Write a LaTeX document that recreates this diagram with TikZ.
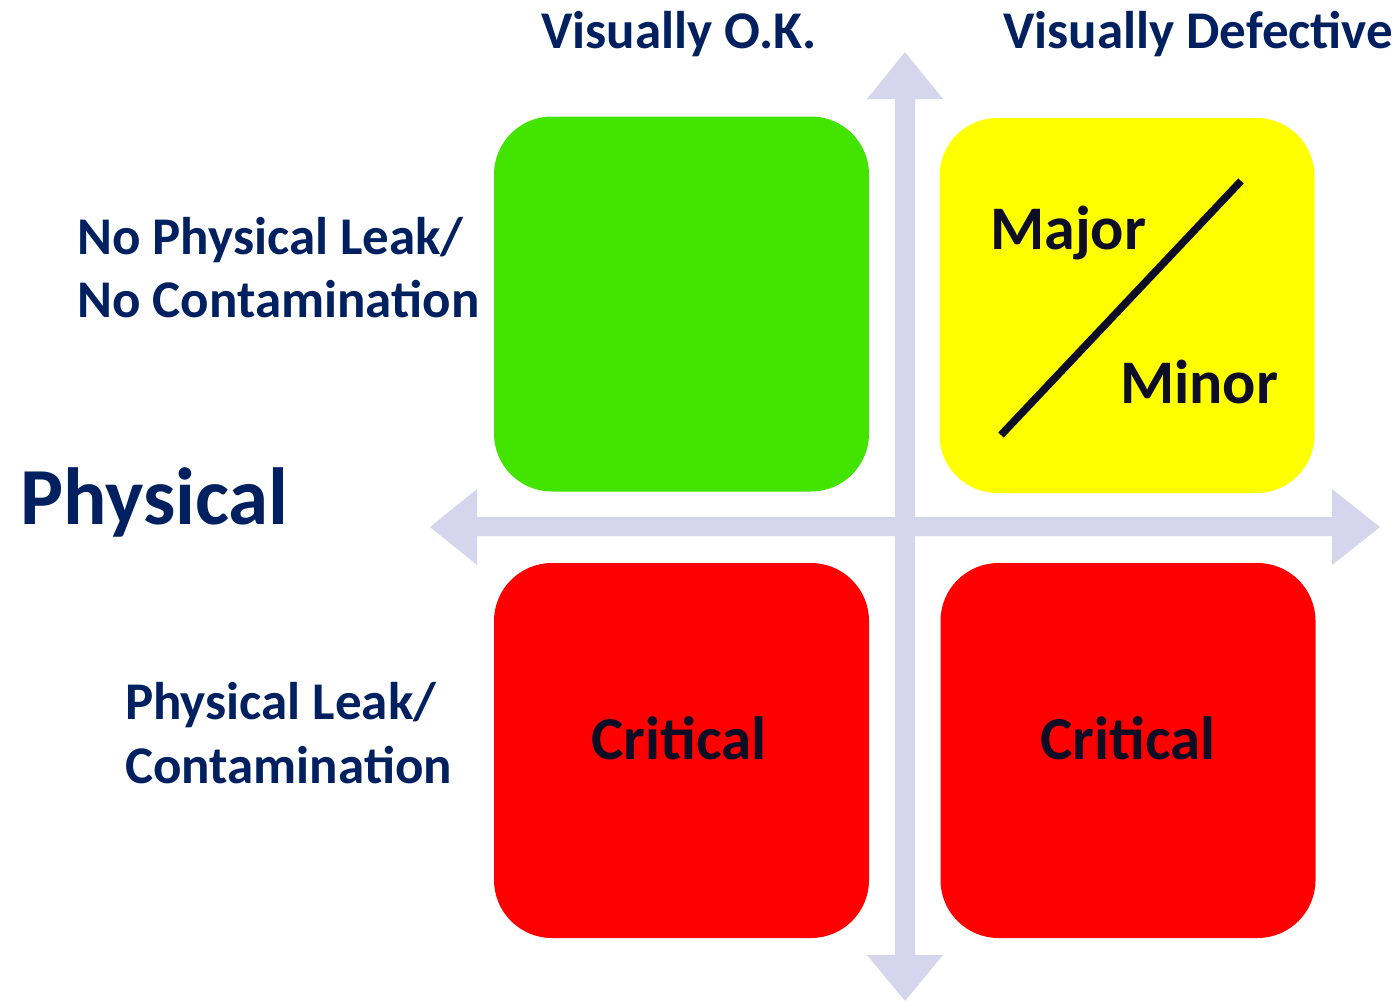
\documentclass[tikz,border=0pt]{standalone}
\usepackage{fontspec}
\setmainfont{Carlito}
\definecolor{navy}{HTML}{002060}
\definecolor{ink}{HTML}{0D0D26}
\definecolor{axis}{HTML}{D5D5EE}
\definecolor{okgreen}{HTML}{43E400}
\definecolor{warnyellow}{HTML}{FFFF00}
\definecolor{critred}{HTML}{FF0000}
\begin{document}
\begin{tikzpicture}[x=1pt,y=-1pt,
  quad/.style={draw=none,minimum width=375pt,minimum height=375pt,rounded corners=58pt,inner sep=0pt},
  axislab/.style={anchor=base west,inner sep=0pt,text=navy,font=\bfseries\fontsize{53}{64}\selectfont},
  rowlab/.style={anchor=base west,inner sep=0pt,text=navy,font=\bfseries\fontsize{53}{64}\selectfont},
  biglab/.style={anchor=base west,inner sep=0pt,text=navy,font=\bfseries\fontsize{81}{97}\selectfont},
  celllab/.style={inner sep=0pt,text=ink,font=\bfseries\fontsize{61}{73}\selectfont},
  mmlab/.style={anchor=base west,inner sep=0pt,text=ink,font=\bfseries\fontsize{62}{74}\selectfont}]
\useasboundingbox[fill=white] (0,0) rectangle (1399,1001);
% axes
\fill[axis] (895,99) -- (867,99) -- (905,52) -- (943,99) -- (915,99)
  -- (915,955) -- (943,955) -- (905,1001) -- (867,955) -- (895,955) -- cycle;
\fill[axis] (477,517) -- (477,489) -- (430,527) -- (477,565) -- (477,536)
  -- (1332,536) -- (1332,565) -- (1380,527) -- (1332,489) -- (1332,517) -- cycle;
% quadrants
\node[quad,fill=okgreen] (q1) at (681.5,304) {};
\node[quad,fill=warnyellow] (q2) at (1127,305.5) {};
\node[quad,fill=critred] (q3) at (681.5,750.5) {};
\node[quad,fill=critred] (q4) at (1128,750.5) {};
% diagonal
\coordinate (d1) at (1001,435);
\coordinate (d2) at (1241,181);
\draw[ink,line width=7.5pt] (d1) -- (d2);
% labels
\node[axislab] (vok) at (541,48) {Visually O.K.};
\node[axislab] (vdef) at (1003,48) {Visually Defective};
\node[rowlab] (r1a) at (77,254) {No Physical Leak/};
\node[rowlab] (r1b) at (77,317) {No Contamination};
\node[rowlab] (r2a) at (125,719) {Physical Leak/};
\node[rowlab] (r2b) at (125,783) {Contamination};
\node[biglab] (phys) at (20,524) {Physical};
\node[mmlab] (maj) at (990,249) {Major};
\node[mmlab] (min) at (1120,403) {Minor};
\node[celllab,anchor=base] (c1) at (679,759) {Critical};
\node[celllab,anchor=base] (c2) at (1128,759) {Critical};
\end{tikzpicture}
\end{document}
